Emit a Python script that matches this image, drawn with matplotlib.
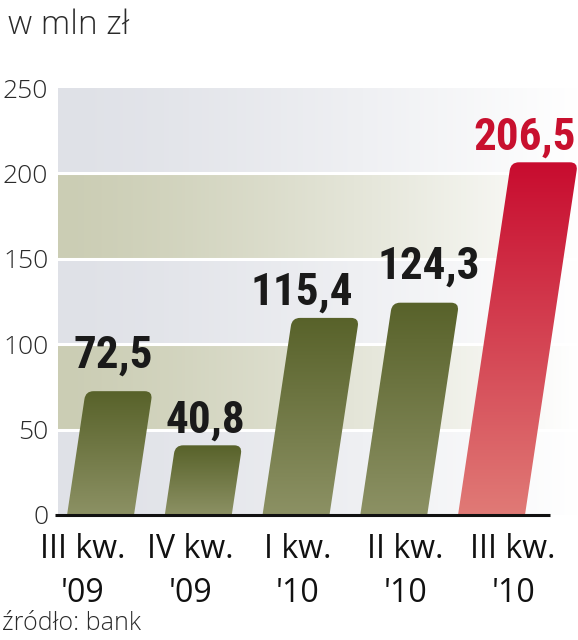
import numpy as np
import matplotlib
matplotlib.use("Agg")
import matplotlib.pyplot as plt
from matplotlib.path import Path
from matplotlib.patches import PathPatch
from matplotlib import font_manager
from matplotlib.font_manager import FontProperties
from matplotlib.colors import to_rgb
import matplotlib.transforms as mtransforms

# ---------------- data ----------------
categories = ["III kw.\n'09", "IV kw.\n'09", "I kw.\n'10", "II kw.\n'10", "III kw.\n'10"]
values = [72.5, 40.8, 115.4, 124.3, 206.5]
value_labels = ["72,5", "40,8", "115,4", "124,3", "206,5"]
highlight = [False, False, False, False, True]
yticks = [0, 50, 100, 150, 200, 250]
unit_label = "w mln zł"
source_label = "źródło: bank"

# layout tweaks for value labels (pixels)
label_dx_px = [-6, -3, -24, 3, 0]
label_gap_px = [24, 13, 13, 24, 13]

# ---------------- fonts ----------------
flist = font_manager.fontManager.ttflist
names = {f.name for f in flist}
light_font = "Open Sans" if "Open Sans" in names else "DejaVu Sans"


def is_bold(f):
    w = f.weight
    if isinstance(w, str):
        return w in ("bold", "heavy", "black", "extra bold", "demibold", "semibold")
    return w >= 600


bold_fp = None
for pref in ["Roboto Condensed", "Liberation Sans Narrow", "Open Sans Condensed"]:
    c = [f for f in flist if f.name == pref and is_bold(f)]
    if c:
        bold_fp = FontProperties(fname=c[0].fname)
        break
if bold_fp is None:
    c = [f for f in flist if ("Condensed" in f.fname or "Narrow" in f.fname) and
         ("Bold" in f.fname) and "Oblique" not in f.fname and "Italic" not in f.fname]
    if c:
        bold_fp = FontProperties(fname=c[0].fname)
if bold_fp is None:
    bold_fp = FontProperties(family="DejaVu Sans", weight="bold")
bold_fp.set_size(32.5)

W, H = 578, 640
DPI = 100
fig = plt.figure(figsize=(W / DPI, H / DPI), dpi=DPI)
fig.patch.set_facecolor("white")

ax_left_px, ax_right_px = 58, 578
ax_bottom_px, ax_top_px = 515, 88
ax = fig.add_axes([ax_left_px / W, (H - ax_bottom_px) / H,
                   (ax_right_px - ax_left_px) / W, (ax_bottom_px - ax_top_px) / H])
xlim = (-0.435, 4.885)
ylim = (0, 250)
ax.set_xlim(*xlim)
ax.set_ylim(*ylim)
for s in ax.spines.values():
    s.set_visible(False)

px_per_x = (ax_right_px - ax_left_px) / (xlim[1] - xlim[0])
px_per_y = (ax_bottom_px - ax_top_px) / (ylim[1] - ylim[0])

# ---------------- background bands ----------------
grey = np.array(to_rgb("#dfe1e7"))
olive = np.array(to_rgb("#cbcdb4"))
white = np.array([1.0, 1.0, 1.0])
nx, ny = 300, 250
t = np.linspace(0, 1, nx)
fade = t ** 1.3
bg = np.zeros((ny, nx, 3))
for row in range(ny):
    yv = ylim[1] - (row + 0.5) * (ylim[1] - ylim[0]) / ny
    band = int(yv // 50)
    base = olive if band % 2 == 1 else grey
    bg[row] = base[None, :] * (1 - fade[:, None]) + white[None, :] * fade[:, None]
ax.imshow(bg, extent=[xlim[0], xlim[1], ylim[0], ylim[1]], aspect="auto",
          zorder=0, interpolation="bilinear")
for yv in [50, 100, 150, 200]:
    ax.axhline(yv, color="white", lw=2.2, zorder=1)

# ---------------- bars ----------------
bar_width = 0.685
slant = 0.15      # px horizontal per px vertical
radius_px = 8


def bar_path(xc, h):
    hw = bar_width * px_per_x / 2
    hp = h * px_per_y
    bl = np.array([-hw, 0.0])
    br = np.array([hw, 0.0])
    tl = np.array([-hw + slant * hp, hp])
    tr = np.array([hw + slant * hp, hp])
    d = np.array([-slant, -1.0]); d /= np.hypot(*d)
    r = radius_px
    pts = [bl, tl + r * d, tl, tl + np.array([r, 0]), tr - np.array([r, 0]),
           tr, tr + r * d, br, bl]
    codes = [Path.MOVETO, Path.LINETO, Path.CURVE3, Path.CURVE3, Path.LINETO,
             Path.CURVE3, Path.CURVE3, Path.LINETO, Path.CLOSEPOLY]
    pts = np.array(pts)
    data = np.column_stack([xc + pts[:, 0] / px_per_x, pts[:, 1] / px_per_y])
    return Path(data, codes), data


olive_top, olive_bot = np.array(to_rgb("#58622a")), np.array(to_rgb("#8c9164"))
red_top, red_bot = np.array(to_rgb("#c80c2f")), np.array(to_rgb("#e07a76"))

for i, (v, hl) in enumerate(zip(values, highlight)):
    path, data = bar_path(i, v)
    patch = PathPatch(path, facecolor="none", edgecolor="none", zorder=2)
    ax.add_patch(patch)
    top_c, bot_c = (red_top, red_bot) if hl else (olive_top, olive_bot)
    g = np.linspace(0, 1, 200)[:, None]
    img = top_c[None, :] * (1 - g) + bot_c[None, :] * g
    img = np.repeat(img[:, None, :], 2, axis=1)
    im = ax.imshow(img, extent=[data[:, 0].min() - 0.05, data[:, 0].max() + 0.05, 0, v],
                   aspect="auto", zorder=2, interpolation="bilinear")
    im.set_clip_path(patch)
    top_center = i + slant * v * px_per_y / px_per_x
    gap = label_gap_px[i] / px_per_y
    col = "#c8102e" if hl else "#1a1a1a"
    if i == len(values) - 1:
        xr = (576 - ax_left_px) / px_per_x + xlim[0]
        ax.text(xr, v + gap, value_labels[i], ha="right", va="baseline",
                fontproperties=bold_fp, color=col, zorder=4, clip_on=False)
    else:
        ax.text(top_center + label_dx_px[i] / px_per_x, v + gap, value_labels[i],
                ha="center", va="baseline",
                fontproperties=bold_fp, color=col, zorder=4)

ax.set_xlim(*xlim)
ax.set_ylim(*ylim)

# axis baseline
ax.plot([xlim[0] - 3 / px_per_x, (550 - ax_left_px) / px_per_x + xlim[0]], [0, 0],
        color="#111111", lw=2.2, zorder=3, clip_on=False, solid_capstyle="butt")

# y ticks
ax.set_yticks(yticks)
ax.set_yticklabels([str(v) for v in yticks], family=light_font, fontsize=19,
                   color="#2a2a2a", fontweight="light")
ax.tick_params(axis="y", length=0, pad=7)
ax.set_xticks([])

# x category labels (two lines each)
trans = mtransforms.blended_transform_factory(ax.transData, fig.transFigure)
for i, lab in enumerate(categories):
    l1, l2 = lab.split("\n")
    xl = -0.18 + 1.1 * i
    ax.text(xl, 1 - 549 / H, l1, transform=trans, ha="center", va="center",
            family=light_font, fontsize=23, color="#111111", clip_on=False)
    ax.text(xl, 1 - 594 / H, l2, transform=trans, ha="center", va="center",
            family=light_font, fontsize=23, color="#111111", clip_on=False)

fig.text(8 / W, 1 - 25 / H, unit_label, ha="left", va="center",
         family=light_font, fontsize=24, color="#2a2a2a", fontweight="light")
fig.text(2 / W, 1 - 624 / H, source_label, ha="left", va="center",
         family=light_font, fontsize=18, color="#2a2a2a", fontweight="light")

fig.savefig("out.png", dpi=DPI, facecolor="white")
